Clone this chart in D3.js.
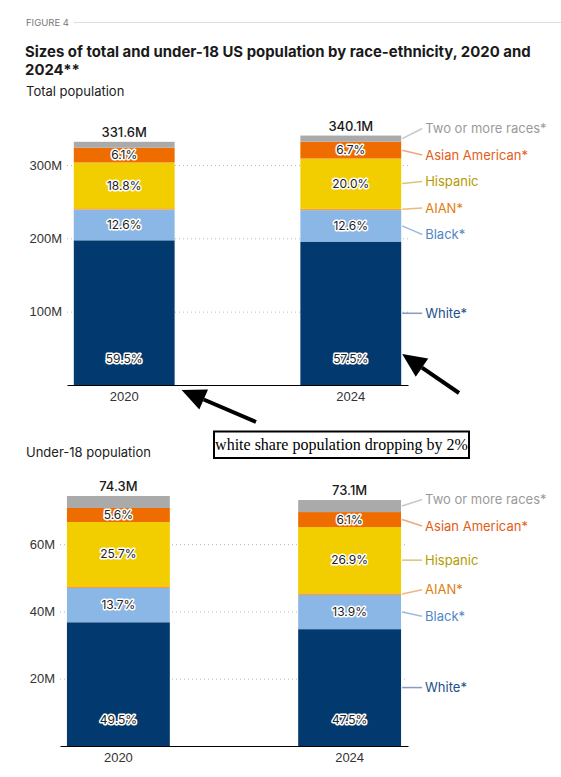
<!DOCTYPE html>
<html>
<head>
<meta charset="utf-8">
<script src="https://cdn.jsdelivr.net/npm/d3@7"></script>
<style>
  body { margin: 0; background: #fff; }
  svg { font-family: Inter, "Noto Sans", sans-serif; }
  .y-axis .domain { display: none; }
  .y-axis line { stroke: #bbb; stroke-dasharray: 1,3; }
  .y-axis text { font-size: 13px; fill: #333; }
  .x-axis .domain { stroke: #000; }
  .x-axis text { font-size: 13px; fill: #333; }
</style>
</head>
<body>
<svg id="chart" width="561" height="777"></svg>
<script>
// data
const years = ["2020", "2024"];
const groups = ["White*", "Black*", "AIAN*", "Hispanic", "Asian American*", "Two or more races*"];

const totalPop = [331.6, 340.1];           // millions
const totalShares2020 = [59.5, 12.6, 0.6, 18.8, 6.1, 2.4];
const totalShares2024 = [57.5, 12.6, 0.7, 20.0, 6.7, 2.5];

const under18Pop = [74.3, 73.1];
const under18Shares2020 = [49.5, 13.7, 0.7, 25.7, 5.6, 4.8];
const under18Shares2024 = [47.5, 13.9, 0.7, 26.9, 6.1, 4.9];

const totalTicks = [100, 200, 300];
const under18Ticks = [20, 40, 60];

const barColors = ["#023a6f", "#8bb7e7", "#f5a21f", "#f2ce00", "#ee6c00", "#aaaaaa"];
const textColors = ["#1d4f8e", "#4f86c6", "#e07d10", "#b39b00", "#e35d16", "#9a9a9a"];

const svg = d3.select("#chart");

// header
svg.append("text")
    .attr("x", 26).attr("y", 26)
    .style("font-size", "9.5px").style("fill", "#777")
    .text("FIGURE 4");
svg.append("line")
    .attr("x1", 74).attr("x2", 561).attr("y1", 22.5).attr("y2", 22.5)
    .style("stroke", "#ddd");

const title1 = svg.append("text")
    .attr("x", 25).attr("y", 57)
    .style("font-size", "16px").style("font-weight", 700).style("fill", "#1a1a1a")
    .text("Sizes of total and under-18 US population by race-ethnicity, 2020 and");
// fit the first title line to the width seen in the figure
const titleSize = 16 * 506 / title1.node().getComputedTextLength();
title1.style("font-size", titleSize + "px");
svg.append("text")
    .attr("x", 25).attr("y", 75)
    .style("font-size", titleSize + "px").style("font-weight", 700).style("fill", "#1a1a1a")
    .text("2024**");

svg.append("text")
    .attr("x", 26).attr("y", 96)
    .style("font-size", "13px").style("fill", "#222")
    .text("Total population");

svg.append("text")
    .attr("x", 26).attr("y", 456.5)
    .style("font-size", "13px").style("fill", "#222")
    .text("Under-18 population");


// spreads side labels so they keep a minimum gap, clusters centred on their targets
function spreadLabels(items, gap) {
    let clusters = items
        .slice()
        .sort(function(a, b) { return a.target - b.target; })
        .map(function(d) { return {items: [d], center: d.target}; });

    let merged = true;
    while (merged) {
        merged = false;
        for (let i = 0; i < clusters.length - 1; i++) {
            let a = clusters[i], b = clusters[i + 1];
            let aBottom = a.center + (a.items.length - 1) / 2 * gap;
            let bTop = b.center - (b.items.length - 1) / 2 * gap;
            if (bTop - aBottom < gap) {
                let all = a.items.concat(b.items);
                clusters.splice(i, 2, {items: all, center: d3.mean(all, function(d) { return d.target; })});
                merged = true;
                break;
            }
        }
    }
    clusters.forEach(function(c) {
        c.items.forEach(function(d, i) {
            d.y = c.center + (i - (c.items.length - 1) / 2) * gap;
        });
    });
}


function drawPanel(opts) {
    const g = svg.append("g");

    const rows = years.map(function(yr, i) {
        const row = {year: yr, total: opts.totals[i]};
        groups.forEach(function(k, j) {
            row[k] = opts.totals[i] * opts.shares[i][j] / 100;
            row["share_" + k] = opts.shares[i][j];
        });
        return row;
    });

    const x = d3.scaleBand()
        .domain(years)
        .range(opts.xRange)
        .paddingInner(0.555)
        .paddingOuter(0.03);

    const y = d3.scaleLinear()
        .domain(opts.yDomain)
        .range(opts.yRange);

    const stack = d3.stack().keys(groups)(rows);

    // y axis with dotted gridlines
    g.append("g")
        .attr("class", "y-axis")
        .attr("transform", "translate(" + opts.xRange[0] + ",0)")
        .call(d3.axisLeft(y)
            .tickValues(opts.ticks)
            .tickSize(-(opts.xRange[1] - opts.xRange[0]))
            .tickPadding(5)
            .tickFormat(function(d) { return d + "M"; }));

    // bars
    const layer = g.selectAll("g.layer")
        .data(stack)
        .enter()
        .append("g")
        .attr("class", "layer")
        .style("fill", function(d, i) { return barColors[i]; });

    layer.selectAll("rect")
        .data(function(d) { return d; })
        .enter()
        .append("rect")
        .attr("x", function(d) { return x(d.data.year); })
        .attr("width", x.bandwidth())
        .attr("y", function(d) { return y(d[1]); })
        .attr("height", function(d) { return y(d[0]) - y(d[1]); });

    // x axis
    g.append("g")
        .attr("class", "x-axis")
        .attr("transform", "translate(0," + y(0) + ")")
        .call(d3.axisBottom(x).tickSize(0).tickSizeOuter(0).tickPadding(7));

    // share labels inside segments
    stack.forEach(function(s, i) {
        const key = groups[i];
        g.selectAll(null)
            .data(s.filter(function(d) { return d.data["share_" + key] >= 5; }))
            .enter()
            .append("text")
            .attr("x", function(d) { return x(d.data.year) + x.bandwidth() / 2; })
            .attr("y", function(d) {
                // white share sits near the bottom of the bar
                if (i === 0) return y(0) - 26;
                return (y(d[0]) + y(d[1])) / 2;
            })
            .attr("dy", "0.35em")
            .attr("text-anchor", "middle")
            .style("font-size", "12px")
            .style("fill", "#222")
            .style("stroke", "#fff")
            .style("stroke-width", 3)
            .style("stroke-linejoin", "round")
            .style("paint-order", "stroke")
            .text(function(d) { return d.data["share_" + key].toFixed(1) + "%"; });
    });

    // totals above bars
    g.selectAll("text.total")
        .data(rows)
        .enter()
        .append("text")
        .attr("class", "total")
        .attr("x", function(d) { return x(d.year) + x.bandwidth() / 2; })
        .attr("y", function(d) { return y(d.total) - 5; })
        .attr("text-anchor", "middle")
        .style("font-size", "13px")
        .style("font-weight", 500)
        .style("fill", "#1a1a1a")
        .text(function(d) { return d.total.toFixed(1) + "M"; });

    // side labels for the last bar
    const last = years[years.length - 1];
    const barRight = x(last) + x.bandwidth();
    const labels = stack.map(function(s, i) {
        const d = s[s.length - 1];
        return {name: groups[i], idx: i, target: (y(d[0]) + y(d[1])) / 2};
    });
    spreadLabels(labels, 26.5);

    g.selectAll("line.connector")
        .data(labels)
        .enter()
        .append("line")
        .attr("class", "connector")
        .attr("x1", barRight + 1)
        .attr("x2", barRight + 21)
        .attr("y1", function(d) { return d.target; })
        .attr("y2", function(d) { return d.y; })
        .style("stroke", function(d) { return textColors[d.idx]; })
        .style("stroke-opacity", 0.55)
        .style("stroke-width", 1.5);

    g.selectAll("text.side")
        .data(labels)
        .enter()
        .append("text")
        .attr("class", "side")
        .attr("x", barRight + 24)
        .attr("y", function(d) { return d.y; })
        .attr("dy", "0.35em")
        .style("font-size", "13px")
        .style("fill", function(d) { return textColors[d.idx]; })
        .text(function(d) { return d.name; });

    return {x: x, y: y};
}

const topPanel = drawPanel({
    totals: totalPop,
    shares: [totalShares2020, totalShares2024],
    xRange: [67, 408],
    yDomain: [0, 350],
    yRange: [385, 128.3],
    ticks: totalTicks
});

drawPanel({
    totals: under18Pop,
    shares: [under18Shares2020, under18Shares2024],
    xRange: [60, 408],
    yDomain: [0, 80],
    yRange: [746, 476.8],
    ticks: under18Ticks
});


// annotation arrows and note
function arrow(x1, y1, x2, y2) {
    const ang = Math.atan2(y2 - y1, x2 - x1);
    const headLen = 24, headW = 11;
    const bx = x2 - headLen * Math.cos(ang), by = y2 - headLen * Math.sin(ang);
    svg.append("line")
        .attr("x1", x1).attr("y1", y1).attr("x2", bx).attr("y2", by)
        .style("stroke", "#000").style("stroke-width", 4);
    const px = -Math.sin(ang) * headW, py = Math.cos(ang) * headW;
    svg.append("path")
        .attr("d", "M" + x2 + "," + y2 + "L" + (bx + px) + "," + (by + py) + "L" + (bx - px) + "," + (by - py) + "Z")
        .style("fill", "#000");
}

const tx = topPanel.x, ty = topPanel.y;
arrow(256, 422, tx("2020") + tx.bandwidth() + 7, ty(0) + 5);
arrow(459, 393, tx("2024") + tx.bandwidth() + 1, ty(0) - 31);

svg.append("rect")
    .attr("x", 214).attr("y", 431.5)
    .attr("width", 255).attr("height", 26.5)
    .style("fill", "#fff").style("stroke", "#000").style("stroke-width", 2);
svg.append("text")
    .attr("x", 341.5).attr("y", 450)
    .attr("text-anchor", "middle")
    .style("font-family", "'Liberation Serif', 'Times New Roman', serif")
    .style("font-size", "16px")
    .style("fill", "#000")
    .text("white share population dropping by 2%");
</script>
</body>
</html>
